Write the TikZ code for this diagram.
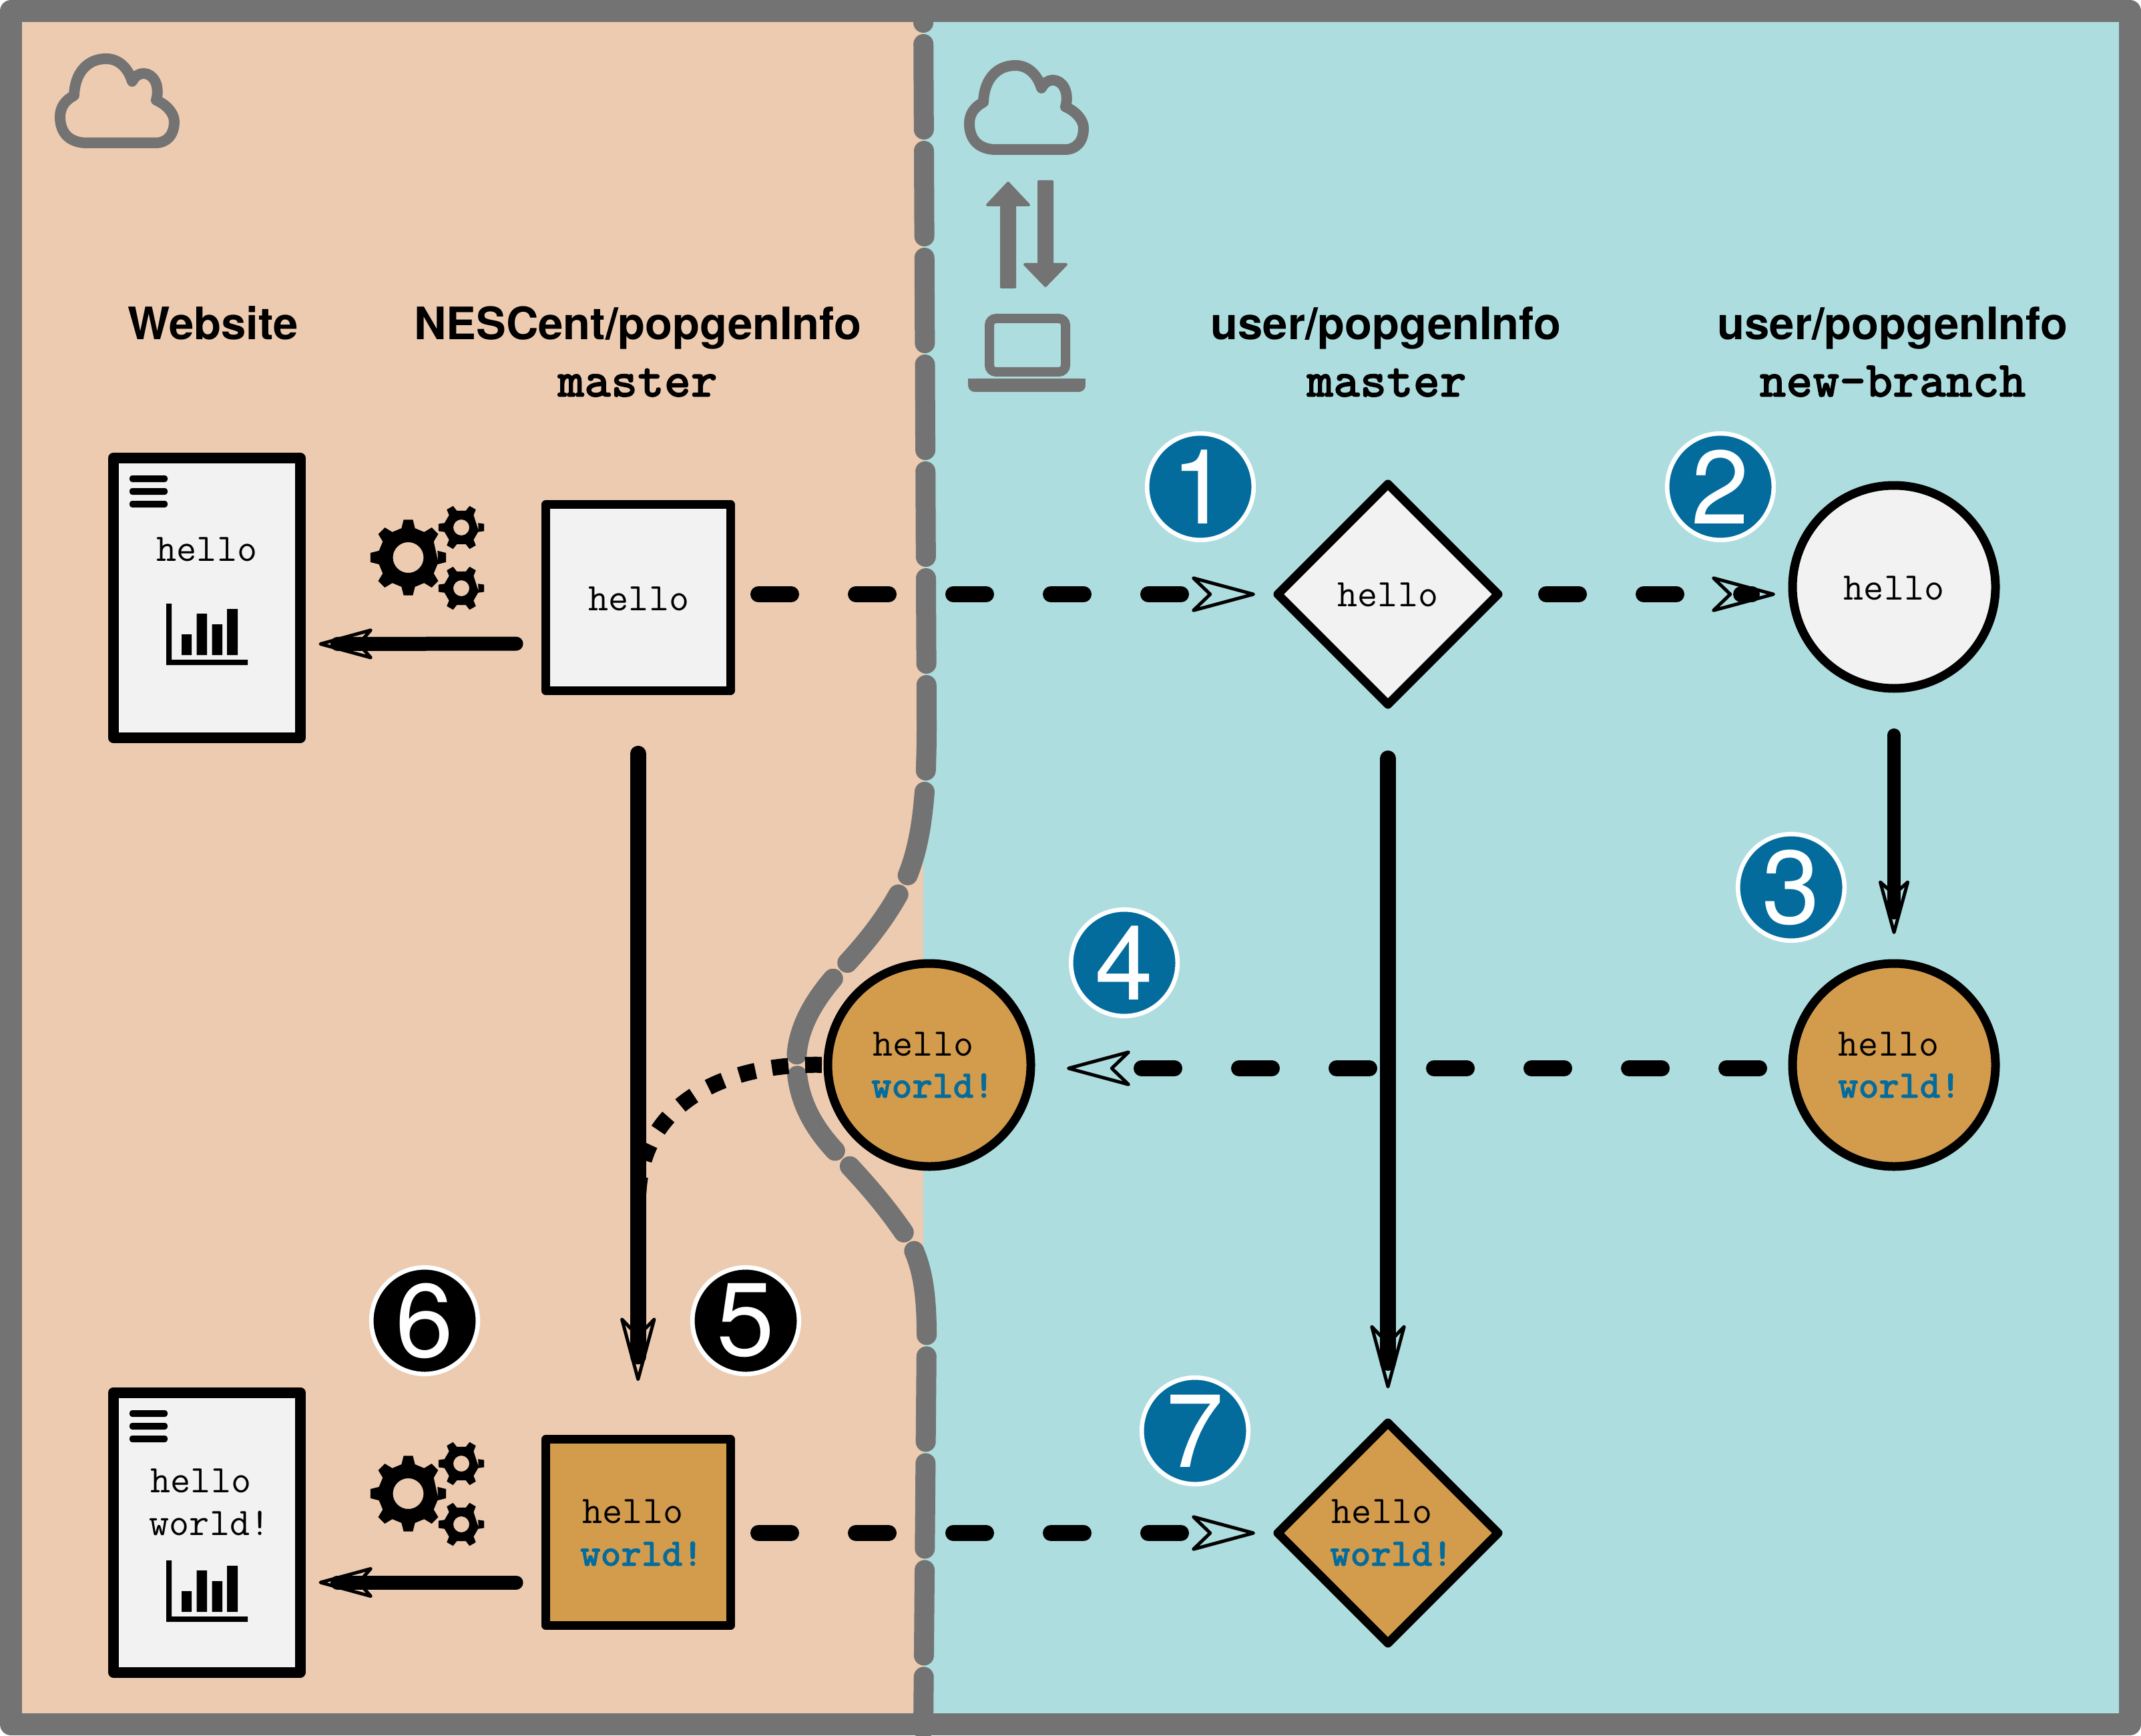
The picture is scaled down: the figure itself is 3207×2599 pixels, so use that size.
\documentclass[tikz,border=0pt]{standalone}
\usepackage{fontspec}
\setmainfont{TeX Gyre Heros}
\newfontfamily\codebold[FakeBold=1.2]{lmmonolt10-bold.otf}
\usetikzlibrary{arrows.meta,shapes.geometric,calc}
\definecolor{peach}{RGB}{237,203,176}
\definecolor{aqua}{RGB}{173,221,223}
\definecolor{frame}{RGB}{115,115,115}
\definecolor{sand}{RGB}{211,155,76}
\definecolor{paper}{RGB}{242,242,242}
\definecolor{seablue}{RGB}{4,108,156}
\tikzset{
  x=0.25pt,y=-0.25pt,
  nodebase/.style={draw=black,inner sep=0pt,outer sep=0pt,line join=round},
  sitebox/.style={nodebase,rectangle,fill=paper,line width=4pt,minimum width=69.875pt,minimum height=104.75pt},
  repobox/.style={nodebase,rectangle,line width=3.25pt,minimum width=69.125pt,minimum height=69.75pt},
  repodia/.style={nodebase,diamond,aspect=1,line width=3.25pt,minimum width=82.5pt,minimum height=82.5pt},
  repocirc/.style={nodebase,circle,line width=3.25pt,minimum size=76pt},
  num/.style={circle,draw=white,line width=1.65pt,inner sep=0pt,minimum size=39.9pt,text=white,font=\fontsize{39}{39}\selectfont},
  numblue/.style={num,fill=seablue},
  numblack/.style={num,fill=black},
  code/.style={anchor=base,inner sep=0pt,font=\ttfamily\fontsize{14.6}{14.6}\selectfont},
  codeb/.style={anchor=base,inner sep=0pt,text=seablue,font=\codebold\fontsize{14.6}{14.6}\selectfont},
  head/.style={anchor=base,inner sep=0pt,font=\bfseries\fontsize{16.75}{16.75}\selectfont},
  headm/.style={anchor=base,inner sep=0pt,font=\codebold\fontsize{19}{19}\selectfont},
  dashconn/.style={draw=black,line width=6pt,line cap=round,dash pattern=on 12.25pt off 24.25pt},
  solidconn/.style={draw=black,line cap=round},
  tipbig/.style={draw=black,line width=0.02pt,-{Stealth[color=black,open,round,length=27pt,width=14.5pt,inset=7.5pt,line width=1.25pt]}},
  tipsmall/.style={draw=black,line width=0.02pt,-{Stealth[color=black,open,round,length=23pt,width=12.5pt,inset=5.5pt,line width=1.25pt]}},
  grayline/.style={draw=frame,line width=7.5pt,line cap=round},
  cloudline/.style={draw=frame,line width=4pt,line join=round},
}
\newcommand{\gearshape}[7]{%
  \begin{scope}[shift={(#1,#2)}]
    \fill[black,even odd rule,line join=round] (#7:#4)
      \foreach \i [evaluate=\i as \a using \i*360/#5] in {0,...,\numexpr#5-1\relax}{
        -- (\a-#7-6:#4) -- (\a-#7:#3) -- (\a+#7:#3) -- (\a+#7+6:#4)
      } -- cycle (0,0) circle (#6);
  \end{scope}}
\newcommand{\cloudshape}{%
  \draw[cloudline] (130,214) .. controls (105,214) and (90,200) .. (90,175)
    .. controls (90,160) and (98,150) .. (111,143)
    .. controls (112,110) and (130,88) .. (159,88)
    .. controls (178,88) and (192,102) .. (198,122)
    .. controls (202,114) and (208,110) .. (215,110)
    .. controls (230,110) and (240,128) .. (234,150)
    .. controls (250,157) and (261,170) .. (261,182)
    .. controls (261,202) and (250,214) .. (233,214) -- cycle;}
\newcommand{\chartshape}{%
  \fill[black] (249,904) rectangle (257,988) (249,988) rectangle (371,996);
  \fill[black] (272,950) rectangle (287,981) (294.5,919) rectangle (310,981)
    (317.5,935) rectangle (333,981) (340,912) rectangle (356,981);}
\newcommand{\menushape}{%
  \fill[black,rounded corners=1pt] (194,712) rectangle (251,722) (194,731) rectangle (251,741) (194,750) rectangle (251,760);}
\begin{document}
\begin{tikzpicture}
\useasboundingbox (0,0) rectangle (3207,2599);
% backgrounds
\fill[peach] (16,16) rectangle (1383,2583);
\fill[aqua] (1383,16) rectangle (3191,2583);
% divider
\draw[grayline,dash pattern=on 32pt off 8pt,dash phase=28.5pt]
  (1383,20) -- (1388,1085)
  .. controls (1388,1200) and (1380,1280) .. (1346,1339)
  .. controls (1320,1385) and (1290,1420) .. (1260,1452)
  .. controls (1220,1495) and (1193,1540) .. (1193,1590)
  .. controls (1193,1650) and (1222,1695) .. (1260,1733)
  .. controls (1300,1775) and (1330,1810) .. (1360,1855)
  .. controls (1380,1890) and (1388,1930) .. (1388,2000)
  -- (1383,2590);
% frame
\draw[frame,line width=8.25pt,line join=round] (16.5,16.5) rectangle (3190.5,2582.5);
% clouds, transfer arrows, laptop
\cloudshape
\begin{scope}[shift={(1362,10)}]\cloudshape\end{scope}
\fill[frame,draw=frame,line width=1pt,line join=round]
  (1500,430) -- (1520,430) -- (1520,307) -- (1541,307) -- (1510,274) -- (1479,307) -- (1500,307) -- cycle;
\fill[frame,draw=frame,line width=1pt,line join=round]
  (1556,272) -- (1576,272) -- (1576,396) -- (1597,396) -- (1566,428) -- (1535,396) -- (1556,396) -- cycle;
\draw[frame,line width=3.5pt,rounded corners=2.5pt] (1482,477) rectangle (1596,557);
\fill[frame,rounded corners=2.5pt] (1450,567) -- (1626,567) -- (1626,587) -- (1450,587) -- cycle;
\fill[frame] (1450,567) rectangle (1626,575);
% node shapes
\node[sitebox] (w1) at (309.75,895.5) {};
\node[sitebox] (w2) at (309.75,2295) {};
\node[repobox,fill=paper] (m1) at (955.75,895) {};
\node[repobox,fill=sand] (m2) at (955.75,2295) {};
\node[repodia,fill=paper] (d1) at (2079,890) {};
\node[repodia,fill=sand] (d2) at (2079,2296) {};
\node[repocirc,fill=paper] (c1) at (2837,879) {};
\node[repocirc,fill=sand] (c2) at (2837,1595) {};
\node[repocirc,fill=sand] (c3) at (1392,1595) {};
% website furniture
\menushape \chartshape
\begin{scope}[shift={(0,1400)}]\menushape\end{scope}
\begin{scope}[shift={(0,1433)}]\chartshape\end{scope}
\gearshape{611.5}{835}{57}{45}{8}{23}{7}
\gearshape{691}{790}{34.5}{26}{6}{12}{9}
\gearshape{691}{881}{34.5}{26}{6}{12}{9}
\gearshape{611.5}{2237}{57}{45}{8}{23}{7}
\gearshape{691}{2192}{34.5}{26}{6}{12}{9}
\gearshape{691}{2283}{34.5}{26}{6}{12}{9}
% connectors
\coordinate (jn) at (956,1800);
\draw[tipsmall,shorten <=60pt,shorten >=7pt] ([yshift=-17.25pt]m1.west) -- ([yshift=-17.25pt]w1.east);
\draw[solidconn,line width=5.25pt,shorten <=11.1pt,shorten >=14pt] ([yshift=-17.25pt]m1.west) -- ([yshift=-17.25pt]w1.east);
\draw[tipsmall,shorten <=60pt,shorten >=7pt] ([yshift=-18.75pt]m2.west) -- ([yshift=-18.75pt]w2.east);
\draw[solidconn,line width=5.25pt,shorten <=11.1pt,shorten >=14pt] ([yshift=-18.75pt]m2.west) -- ([yshift=-18.75pt]w2.east);
\draw[tipbig,shorten <=230pt,shorten >=21.8pt] (m1.south) -- (m2.north);
\draw[solidconn,line width=6pt,shorten <=23.6pt,shorten >=31pt] (m1.south) -- (m2.north);
\draw[tipbig,shorten <=228pt,shorten >=12.9pt] (d1.south) -- (d2.north);
\draw[solidconn,line width=6pt,shorten <=20.25pt,shorten >=22.5pt] (d1.south) -- (d2.north);
\draw[tipsmall,shorten <=66pt,shorten >=11pt] (c1.south) -- (c2.north);
\draw[solidconn,line width=5pt,shorten <=17.5pt,shorten >=19pt] (c1.south) -- (c2.north);
\draw[tipbig,draw=aqua,shorten <=168pt,shorten >=8.5pt] (m1.east |- d1.west) -- (d1.west);
\draw[dashconn,shorten <=10.5pt,shorten >=31pt] (m1.east |- d1.west) -- (d1.west);
\draw[tipbig,draw=aqua,shorten <=168pt,shorten >=8.5pt] (m2.east |- d2.west) -- (d2.west);
\draw[dashconn,shorten <=10.5pt,shorten >=31pt] (m2.east |- d2.west) -- (d2.west);
\draw[tipbig,draw=aqua,shorten <=75pt,shorten >=6.5pt] (d1.east) -- (c1.west |- d1.east);
\draw[dashconn,shorten <=18pt,shorten >=15.25pt] (d1.east) -- (c1.west |- d1.east);
\draw[tipbig,draw=aqua,shorten <=243pt,shorten >=13.5pt] ([yshift=-1.25pt]c2.west) -- ([yshift=-1.25pt]c3.east);
\draw[dashconn,shorten <=12.5pt,shorten >=40pt] ([yshift=-1.25pt]c2.west) -- ([yshift=-1.25pt]c3.east);
\draw[black,line width=6pt,dash pattern=on 6.25pt off 6.25pt,shorten <=2.25pt]
  (c3.west) .. controls (1090,1592) and (955,1650) .. (jn);
% numbered circles
\node[numblue] (n1) at (1798,729) {1};
\node[numblue] (n2) at (2577,729) {2};
\node[numblue] (n3) at (2683,1329) {3};
\node[numblue] (n4) at (1684,1442) {4};
\node[numblack] (n5) at (1117,1978) {5};
\node[numblack] (n6) at (636,1978) {6};
\node[numblue] (n7) at (1790,2143) {7};
% headings
\node[head] (h1) at (319,509) {Website};
\node[head] (h2) at (955.5,509) {NESCent/popgenInfo};
\node[headm] (h2b) at (955,594) {master};
\node[head] (h3) at (2076,509) {user/popgenInfo};
\node[headm] (h3b) at (2077,594) {master};
\node[head] (h4) at (2835,509) {user/popgenInfo};
\node[headm] (h4b) at (2835,594) {new-branch};
% code text
\node[code] (t1) at (310,840) {hello};
\node[code] (t2) at (957,914) {hello};
\node[code] (t3) at (2079,908) {hello};
\node[code] (t4) at (2837,898) {hello};
\node[code] (t5) at (1383,1581) {hello};
\node[codeb] (t6) at (1397,1644) {world!};
\node[code] (t7) at (2829,1581) {hello};
\node[codeb] (t8) at (2845,1644) {world!};
\node[code] (t9) at (948,2281) {hello};
\node[codeb] (t10) at (961,2345) {world!};
\node[code] (t11) at (2070,2281) {hello};
\node[codeb] (t12) at (2084,2345) {world!};
\node[code] (t13) at (301,2235) {hello};
\node[code] (t14) at (314,2299) {world!};
\end{tikzpicture}
\end{document}
